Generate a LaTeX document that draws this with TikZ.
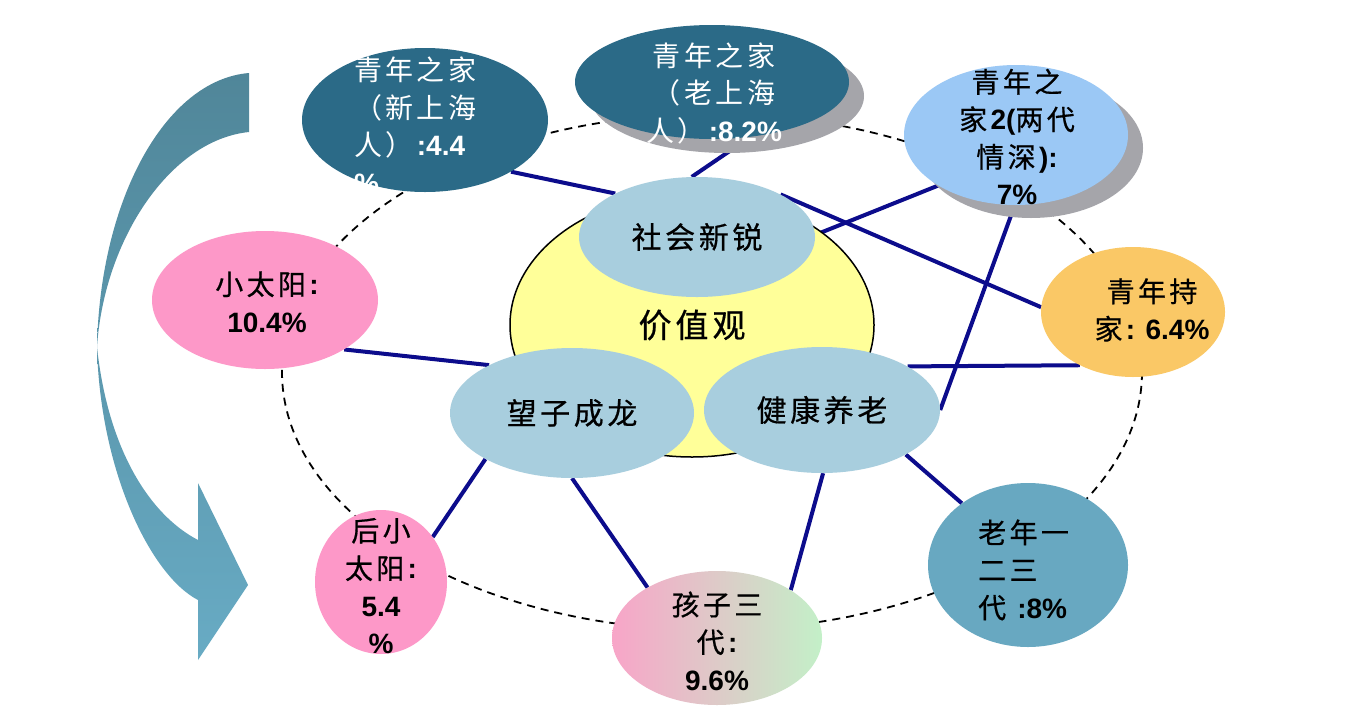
\documentclass[tikz,border=0pt]{standalone}
\usepackage{fontspec}
\setmainfont{Liberation Sans}
\newfontfamily\cjk{Noto Sans CJK SC}[LetterSpace=12,FakeBold=0.6]
\newfontfamily\cjkw{Noto Sans CJK SC}[LetterSpace=12]
\usetikzlibrary{shapes.geometric}
\pgfdeclarelayer{back}
\pgfdeclarelayer{bg}
\pgfsetlayers{back,bg,main}
\newcommand\zhs[1]{{\cjk #1}}
\newcommand\zhw[1]{{\cjkw #1}}
\definecolor{tealD}{RGB}{43,106,135}
\definecolor{cyanL}{RGB}{168,206,222}
\definecolor{yelL}{RGB}{255,255,153}
\definecolor{blueL}{RGB}{155,200,245}
\definecolor{orangeL}{RGB}{250,200,102}
\definecolor{pinkL}{RGB}{253,152,200}
\definecolor{pinkG}{RGB}{248,165,200}
\definecolor{greenG}{RGB}{195,240,200}
\definecolor{tealM}{RGB}{104,168,193}
\definecolor{navy}{RGB}{12,12,140}
\definecolor{shadowG}{RGB}{165,165,170}
\definecolor{arrowTop}{RGB}{80,134,153}
\definecolor{arrowBot}{RGB}{104,171,196}
\begin{document}
\begin{tikzpicture}[x=1pt,y=-1pt,
  ell/.style={ellipse, draw=none, inner sep=0pt},
  shad/.style={ellipse, draw=none, fill=shadowG, inner sep=0pt},
  conn/.style={draw=navy, line width=4pt},
  outtxt/.style={inner sep=0pt, font=\fontsize{28}{37.5}\selectfont},
  midtxt/.style={font=\cjk\fontsize{30}{36}\selectfont, text=black}]
\useasboundingbox (0,0) rectangle (1356,718);
\begin{pgfonlayer}{back}
\fill[white] (0,0) rectangle (1356,718);
\end{pgfonlayer}

% big curved arrow
\shade[top color=arrowTop, bottom color=arrowBot]
  (249,73) .. controls (165,80) and (100,200) .. (97,347)
  .. controls (100,470) and (150,575) .. (198,600)
  -- (198,660) -- (248,585) -- (198,483) -- (198,540)
  .. controls (150,515) and (108,450) .. (97,347)
  .. controls (104,240) and (170,140) .. (249,132) -- cycle;

% central value ellipse
\node[ell, draw=black, line width=1.5pt, fill=yelL, minimum width=364pt, minimum height=264pt,
  font=\cjk\fontsize{33}{40}\selectfont] (jz) at (692,325) {价值观};

% shadows
\node[shad, minimum width=274pt, minimum height=114pt] (lss) at (727,96) {};
\node[shad, minimum width=224pt, minimum height=140pt] (lds) at (1031,148) {};

% outer nodes
\node[ell, fill=tealD, minimum width=246pt, minimum height=144pt] (xs) at (425,120) {};
\node[ell, fill=tealD, minimum width=274pt, minimum height=114pt] (ls) at (712,82) {};
\node[ell, fill=blueL, minimum width=224pt, minimum height=140pt] (ld) at (1016,135) {};
\node[ell, fill=orangeL, minimum width=184pt, minimum height=130pt] (cj) at (1133,312) {};
\node[ell, fill=pinkL, minimum width=226pt, minimum height=138pt] (xt) at (265,300) {};
\node[ell, fill=pinkL, minimum width=132pt, minimum height=144pt] (hx) at (381,582) {};
\node[ell, left color=pinkG, right color=greenG, minimum width=210pt, minimum height=134pt] (hz) at (717,638) {};
\node[ell, fill=tealM, minimum width=200pt, minimum height=164pt] (ln) at (1028,565) {};

% inner nodes
\node[ell, fill=cyanL, minimum width=236pt, minimum height=120pt, midtxt] (sh) at (697,237) {社会新锐};
\node[ell, fill=cyanL, minimum width=244pt, minimum height=130pt, midtxt] (wz) at (572,413) {望子成龙};
\node[ell, fill=cyanL, minimum width=236pt, minimum height=126pt, midtxt] (jk) at (822,410) {健康养老};

% texts of outer nodes
\node[outtxt, text=white, align=left, anchor=west] (txs) at (354,125)
  {\zhw{青年之家}\\\zhw{（新上海}\\\zhw{人）}\textbf{:4.4}\\\textbf{\%}};
\node[outtxt, text=white, align=center] (tls) at (714,93)
  {\zhw{青年之家}\\\zhw{（老上海}\\\zhw{人）}\textbf{:8.2\%}};
\node[outtxt, align=center] (tld) at (1017,137)
  {\zhs{青年之}\\\zhs{家}\textbf{2(}\zhs{两代}\\\zhs{情深}\textbf{):}\\\textbf{7\%}};
\node[outtxt, align=center] (tcj) at (1152,310)
  {\zhs{青年持}\\\zhs{家}\textbf{: 6.4\%}};
\node[outtxt, align=center] (txt) at (267,302)
  {\zhs{小太阳}\textbf{:}\\\textbf{10.4\%}};
\node[outtxt, align=center] (thx) at (381,586)
  {\zhs{后小}\\\zhs{太阳}\textbf{:}\\\textbf{5.4}\\\textbf{\%}};
\node[outtxt, align=center] (thz) at (717,641)
  {\zhs{孩子三}\\\zhs{代}\textbf{:}\\\textbf{9.6\%}};
\node[outtxt, align=left, anchor=west] (tln) at (978,570)
  {\zhs{老年一}\\\zhs{二三}\\\zhs{代} \textbf{:8\%}};

\begin{pgfonlayer}{bg}
  \draw[black, line width=1.8pt, dash pattern=on 8pt off 6pt] (712,372) ellipse [x radius=430, y radius=258];
  \draw[conn] (xs.-31) -- (sh.152);
  \draw[conn] (ls.-55) -- (sh.95);
  \draw[conn] (ld.-147) -- (sh.1);
  \draw[conn] (sh.27) -- (cj.177);
  \draw[conn] (ld.-91) -- (jk.0);
  \draw[conn] (xt.-32) -- (wz.150);
  \draw[conn] (cj.-135) -- (jk.27);
  \draw[conn] (wz.-152) -- (hx.41);
  \draw[conn] (wz.-90) -- (hz.144);
  \draw[conn] (jk.-89) -- (hz.33);
  \draw[conn] (jk.-28) -- (ln.137);
\end{pgfonlayer}
\end{tikzpicture}
\end{document}
